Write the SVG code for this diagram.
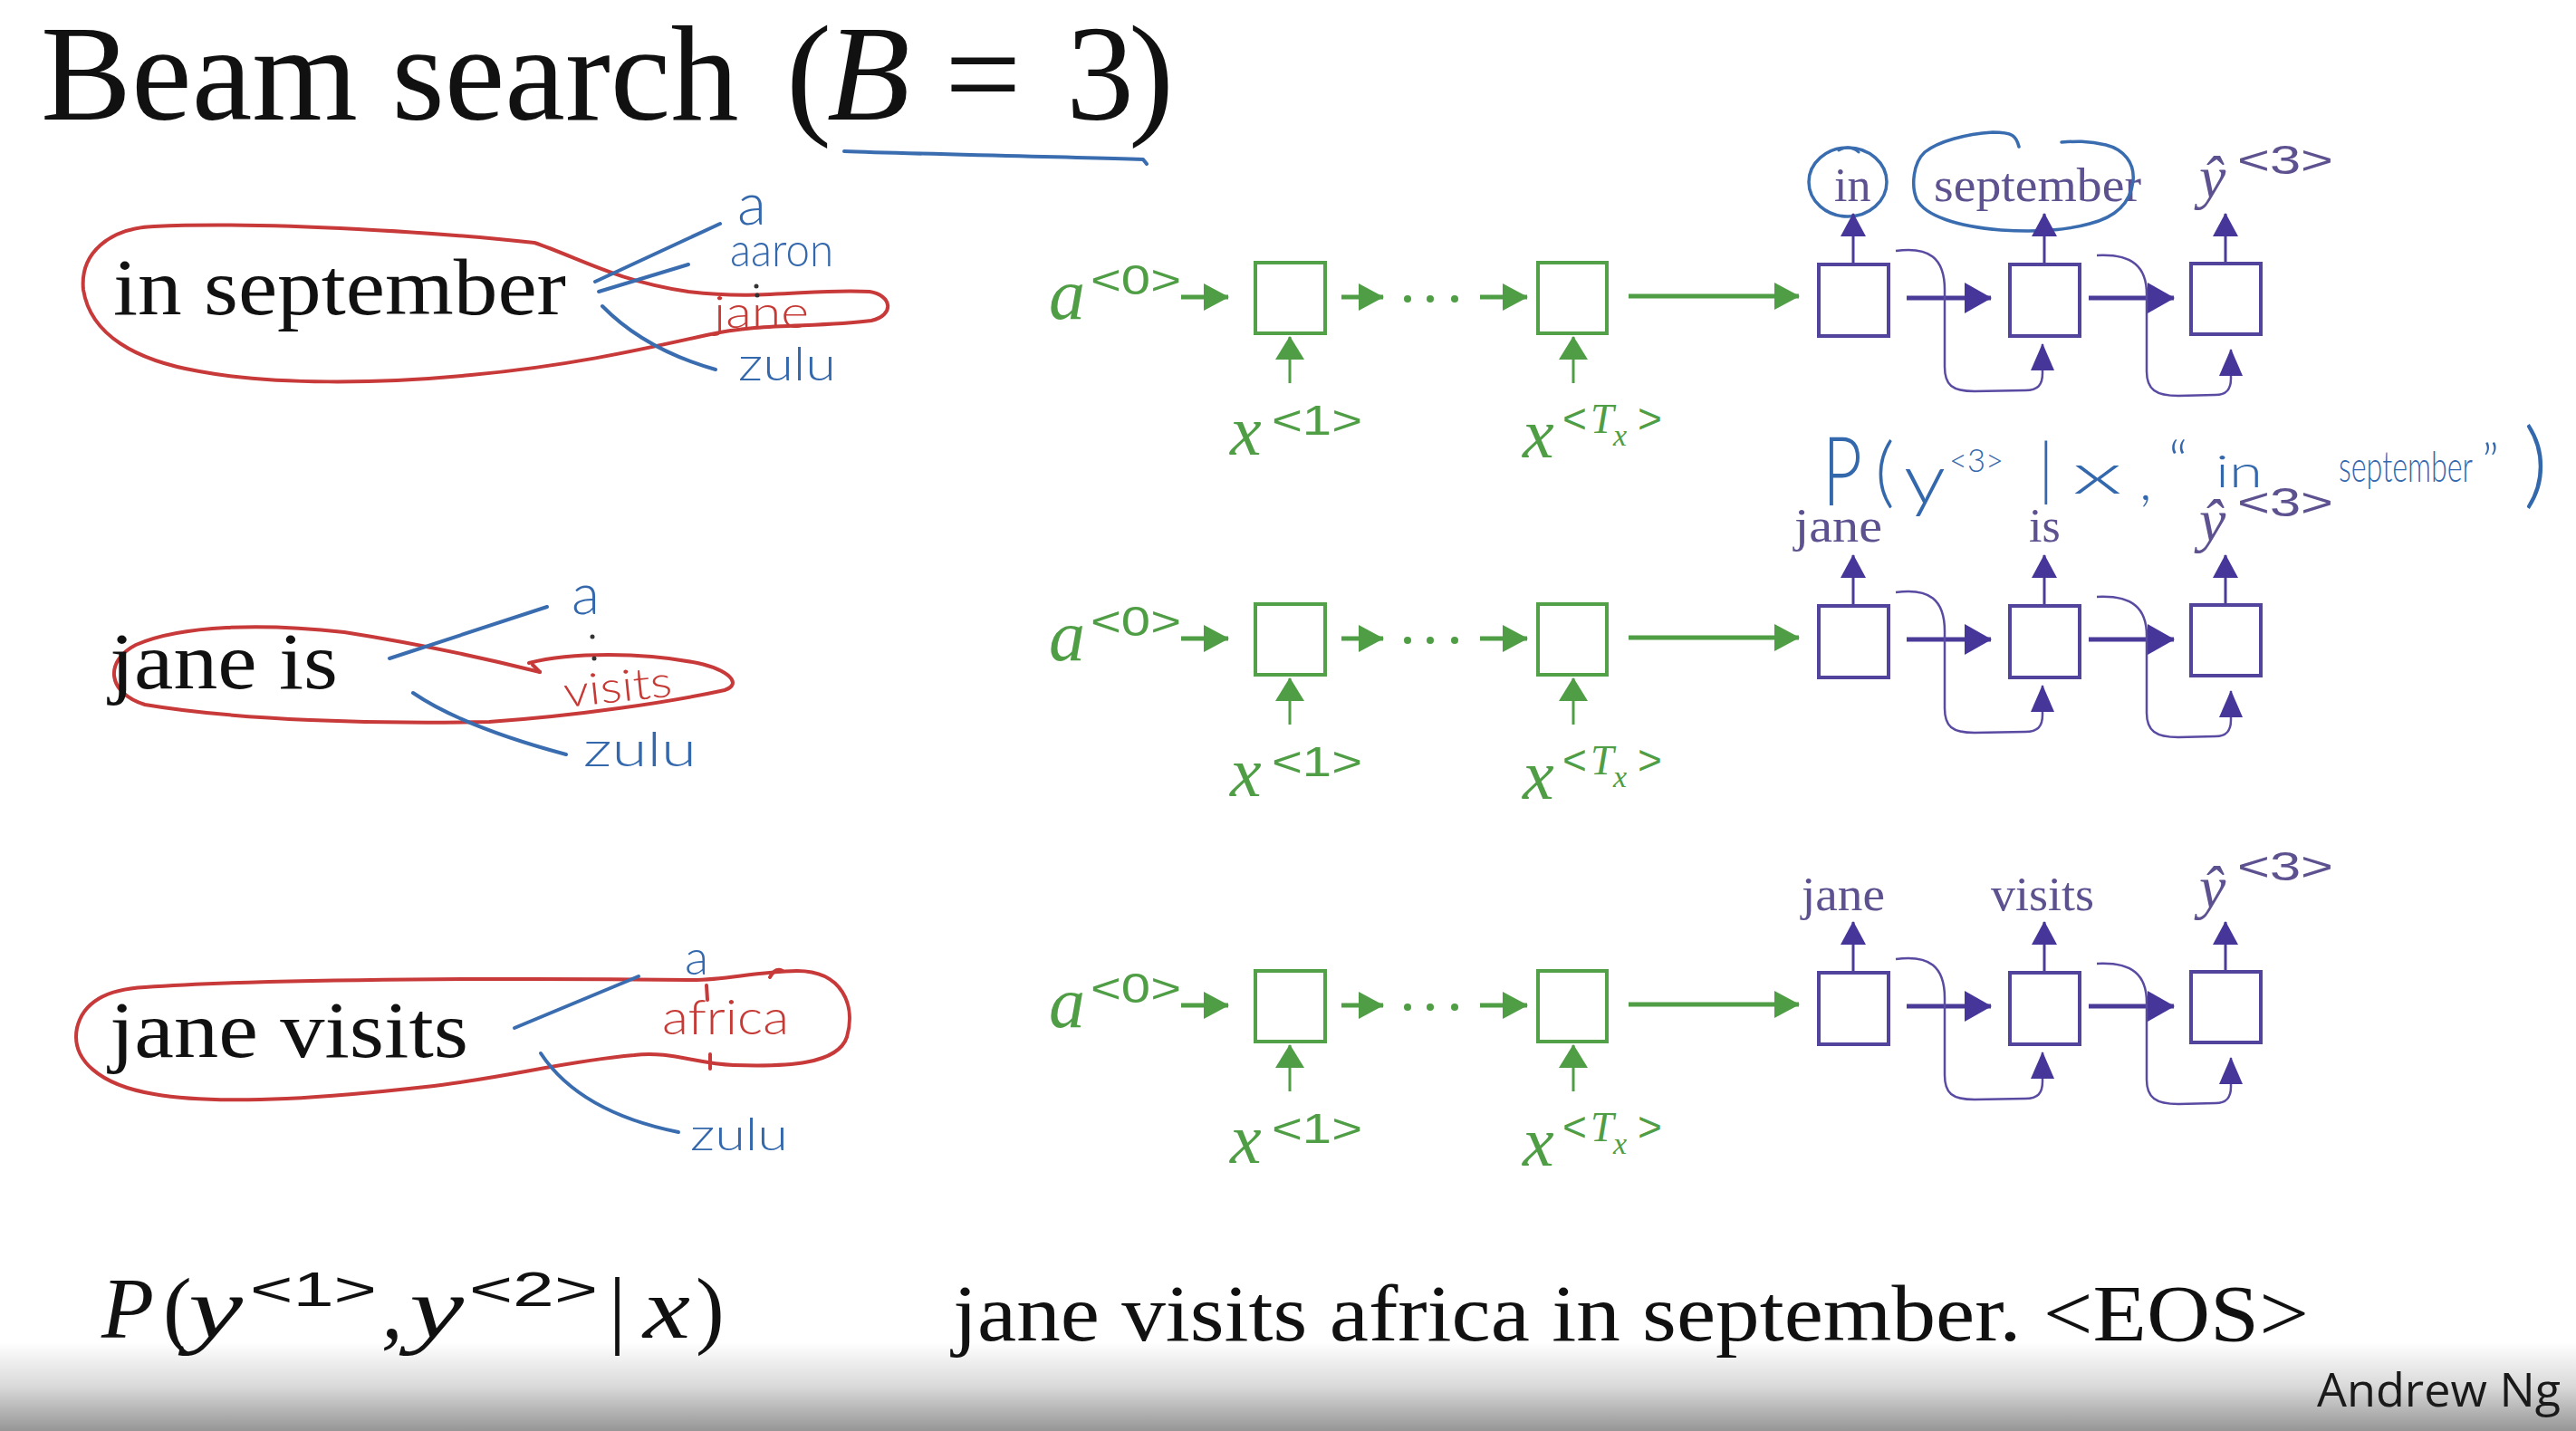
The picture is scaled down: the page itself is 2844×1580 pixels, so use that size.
<svg xmlns="http://www.w3.org/2000/svg" width="2844" height="1580" viewBox="0 0 2844 1580">
<defs>
<style>
.serif{font-family:"Liberation Serif","Times New Roman",serif}
.it{font-style:italic}
.sans{font-family:"Liberation Sans",Arial,sans-serif}
.hand{font-family:Lato,"Liberation Sans",Arial,sans-serif;font-weight:300}
.blk{fill:#111}
.gtx{fill:#4f9e45}
.ptx{fill:#5d5190}
.btx{fill:#3468ad}
.rtx{fill:#c63a36}
.gbox{fill:none;stroke:#52a048;stroke-width:4}
.pbox{fill:none;stroke:#52439c;stroke-width:4}
.garr{fill:none;stroke:#4f9e45;stroke-width:5}
.gup{fill:none;stroke:#4f9e45;stroke-width:3}
.parr{fill:none;stroke:#4a3b98;stroke-width:5}
.pup{fill:none;stroke:#4a3b98;stroke-width:3}
.pcur{fill:none;stroke:#5a4aa2;stroke-width:2.5}
.red{fill:none;stroke:#c8393a;stroke-width:4;stroke-linecap:round;stroke-linejoin:round}
.blue{fill:none;stroke:#3a6cb0;stroke-width:4;stroke-linecap:round;stroke-linejoin:round}
</style>
<marker id="gh" markerUnits="userSpaceOnUse" markerWidth="28" markerHeight="30" viewBox="0 0 28 30" refX="27" refY="15" orient="auto"><path d="M0,0 L28,15 L0,30 Z" fill="#4f9e45"/></marker>
<marker id="gu" markerUnits="userSpaceOnUse" markerWidth="26" markerHeight="32" viewBox="0 0 26 32" refX="25" refY="16" orient="auto"><path d="M0,0 L26,16 L0,32 Z" fill="#4f9e45"/></marker>
<marker id="ph" markerUnits="userSpaceOnUse" markerWidth="30" markerHeight="34" viewBox="0 0 30 34" refX="29" refY="17" orient="auto"><path d="M0,0 L30,17 L0,34 Z" fill="#46369a"/></marker>
<marker id="pu" markerUnits="userSpaceOnUse" markerWidth="26" markerHeight="28" viewBox="0 0 26 28" refX="25" refY="14" orient="auto"><path d="M0,0 L26,14 L0,28 Z" fill="#46369a"/></marker>
<marker id="pf" markerUnits="userSpaceOnUse" markerWidth="30" markerHeight="26" viewBox="0 0 30 26" refX="29" refY="13" orient="auto"><path d="M0,0 L30,13 L0,26 Z" fill="#46369a"/></marker>
<linearGradient id="fade" x1="0" y1="0" x2="0" y2="1">
<stop offset="0" stop-color="#ffffff"/>
<stop offset="0.5" stop-color="#d9d9d9"/>
<stop offset="1" stop-color="#969696"/>
</linearGradient>
</defs>
<rect width="2844" height="1580" fill="#ffffff"/>
<rect x="0" y="1482" width="2844" height="98" fill="url(#fade)"/>

<g id="title">
<text class="serif blk" font-size="150" y="132"><tspan x="45">Beam search</tspan><tspan x="868">(</tspan><tspan x="913" class="it">B</tspan><tspan x="1043">=</tspan><tspan x="1177">3</tspan><tspan x="1246">)</tspan></text>
<path class="blue" d="M932,167 C1000,170 1150,172 1262,176 L1266,181"/>
</g>

<!-- left beam candidates -->
<g id="cand1">
<path class="red" d="M170,250 C300,244 500,258 590,268 C640,285 680,310 760,322 C840,332 900,318 960,322 C985,326 988,348 962,354 C900,362 840,356 780,370 C700,388 620,405 520,414 C420,424 300,425 220,410 C150,398 100,370 92,320 C88,280 120,252 170,250 Z"/>
<text class="serif blk" font-size="89" x="125" y="347" textLength="500" lengthAdjust="spacingAndGlyphs">in september</text>
<path class="blue" d="M657,311 L795,247"/>
<path class="blue" d="M661,322 L760,292"/>
<path class="blue" d="M665,338 Q712,386 790,408"/>
<text class="hand btx" font-size="66" x="814" y="248">a</text>
<text class="hand btx" font-size="52" x="806" y="294" textLength="114" lengthAdjust="spacingAndGlyphs">aaron</text>
<circle cx="835" cy="316" r="2.5" fill="#333"/>
<circle cx="836" cy="326" r="2.5" fill="#333"/>
<text class="hand rtx" font-size="50" x="788" y="362" textLength="105" lengthAdjust="spacingAndGlyphs">jane</text>
<text class="hand btx" font-size="52" x="815" y="420" textLength="108" lengthAdjust="spacingAndGlyphs">zulu</text>
</g>

<g id="cand2">
<path class="red" d="M596,742 C560,733 470,712 380,698 C290,688 200,690 150,712 C115,730 118,765 160,778 C260,795 420,800 540,797 C640,790 740,775 800,762 C820,755 805,740 770,732 C710,720 630,720 584,732"/>
<path class="red" d="M596,742 L588,734"/>
<text class="serif blk" font-size="88" x="121" y="760" textLength="252" lengthAdjust="spacingAndGlyphs">jane is</text>
<path class="blue" d="M430,727 L604,670"/>
<path class="blue" d="M456,765 Q510,802 625,833"/>
<text class="hand btx" font-size="64" x="631" y="678">a</text>
<circle cx="654" cy="703" r="2.5" fill="#333"/>
<circle cx="656" cy="727" r="2.5" fill="#333"/>
<text class="hand rtx" font-size="48" x="622" y="775" textLength="120" lengthAdjust="spacingAndGlyphs" transform="rotate(-6 680 760)">visits</text>
<text class="hand btx" font-size="54" x="644" y="846" textLength="125" lengthAdjust="spacingAndGlyphs">zulu</text>
</g>

<g id="cand3">
<path class="red" d="M160,1090 C300,1080 600,1080 760,1082 C800,1083 830,1073 880,1072 C930,1072 945,1110 935,1145 C925,1175 870,1178 810,1176 C770,1175 740,1160 700,1165 C620,1172 560,1190 470,1200 C380,1210 250,1222 170,1208 C110,1198 78,1170 85,1135 C92,1105 120,1092 160,1090 Z"/>
<path class="red" d="M850,1079 Q856,1068 864,1072"/>
<path class="red" d="M780,1088 L781,1104"/>
<path class="red" d="M784,1164 L784,1180"/>
<text class="serif blk" font-size="88" x="121" y="1167" textLength="396" lengthAdjust="spacingAndGlyphs">jane visits</text>
<path class="blue" d="M568,1135 L705,1078"/>
<path class="blue" d="M597,1163 Q640,1228 749,1250"/>
<text class="hand btx" font-size="54" x="756" y="1076">a</text>
<text class="hand rtx" font-size="54" x="731" y="1142" textLength="140" lengthAdjust="spacingAndGlyphs">africa</text>
<text class="hand btx" font-size="50" x="762" y="1270" textLength="108" lengthAdjust="spacingAndGlyphs">zulu</text>
</g>

<!-- networks: row 1 -->
<g id="row1">
<g id="r1-a0"><text class="serif it gtx" font-size="80" x="1158" y="352">a</text><text class="sans gtx" font-size="46" x="1204" y="325" textLength="100" lengthAdjust="spacingAndGlyphs">&lt;0&gt;</text></g>
<g id="r1-enc1"><rect class="gbox" x="1386" y="290" width="77" height="78"/></g>
<g id="r1-dots"><circle cx="1554" cy="330" r="4" fill="#4f9e45"/><circle cx="1579" cy="330" r="4" fill="#4f9e45"/><circle cx="1606" cy="330" r="4" fill="#4f9e45"/></g>
<g id="r1-enc2"><rect class="gbox" x="1698" y="290" width="76" height="78"/></g>
<g id="r1-x1"><text class="serif it gtx" font-size="78" x="1358" y="502">x</text><text class="sans gtx" font-size="46" x="1404" y="480" textLength="100" lengthAdjust="spacingAndGlyphs">&lt;1&gt;</text></g>
<g id="r1-xT"><text class="serif it gtx" font-size="78" x="1681" y="505">x</text><text class="sans gtx" font-size="46" x="1725" y="478">&lt;</text><text class="serif it gtx" font-size="46" x="1756" y="478">T</text><text class="serif it gtx" font-size="34" x="1781" y="492">x</text><text class="sans gtx" font-size="46" x="1808" y="478">&gt;</text></g>
<g id="r1-dec1"><rect class="pbox" x="2008" y="292" width="77" height="79"/></g>
<g id="r1-dec2"><rect class="pbox" x="2219" y="292" width="77" height="79"/></g>
<g id="r1-dec3"><rect class="pbox" x="2419" y="291" width="77" height="78"/></g>
<g id="r1-out1"><text class="serif ptx" font-size="52" x="2025" y="222">in</text><ellipse class="blue" cx="2040" cy="201" rx="43" ry="38" style="stroke-width:3.5"/><path class="blue" d="M2030,166 q12,-7 22,2" style="stroke-width:3"/></g>
<g id="r1-out2"><text class="serif ptx" font-size="52" x="2135" y="222" textLength="229" lengthAdjust="spacingAndGlyphs">september</text><path class="blue" style="stroke-width:3.5" d="M2229,162 C2226,150 2222,146 2200,146 C2170,148 2140,156 2125,168 C2112,180 2110,205 2116,220 C2125,238 2160,250 2209,254 C2240,256 2275,256 2307,247 C2335,240 2352,225 2355,200 C2357,180 2345,165 2325,160 C2305,155 2290,156 2276,157"/></g>
<g id="r1-out3"><text class="serif it ptx" font-size="66" x="2428" y="218">ŷ</text><text class="sans ptx" font-size="44" x="2470" y="192" textLength="106" lengthAdjust="spacingAndGlyphs">&lt;3&gt;</text></g>
</g>

<!-- row 2 -->
<g id="row2" transform="translate(0,377)">
<g id="r2-a0"><text class="serif it gtx" font-size="80" x="1158" y="352">a</text><text class="sans gtx" font-size="46" x="1204" y="325" textLength="100" lengthAdjust="spacingAndGlyphs">&lt;0&gt;</text></g>
<g id="r2-enc1"><rect class="gbox" x="1386" y="290" width="77" height="78"/></g>
<g id="r2-dots"><circle cx="1554" cy="330" r="4" fill="#4f9e45"/><circle cx="1579" cy="330" r="4" fill="#4f9e45"/><circle cx="1606" cy="330" r="4" fill="#4f9e45"/></g>
<g id="r2-enc2"><rect class="gbox" x="1698" y="290" width="76" height="78"/></g>
<g id="r2-x1"><text class="serif it gtx" font-size="78" x="1358" y="502">x</text><text class="sans gtx" font-size="46" x="1404" y="480" textLength="100" lengthAdjust="spacingAndGlyphs">&lt;1&gt;</text></g>
<g id="r2-xT"><text class="serif it gtx" font-size="78" x="1681" y="505">x</text><text class="sans gtx" font-size="46" x="1725" y="478">&lt;</text><text class="serif it gtx" font-size="46" x="1756" y="478">T</text><text class="serif it gtx" font-size="34" x="1781" y="492">x</text><text class="sans gtx" font-size="46" x="1808" y="478">&gt;</text></g>
<g id="r2-dec1"><rect class="pbox" x="2008" y="292" width="77" height="79"/></g>
<g id="r2-dec2"><rect class="pbox" x="2219" y="292" width="77" height="79"/></g>
<g id="r2-dec3"><rect class="pbox" x="2419" y="291" width="77" height="78"/></g>
<g id="r2-out1"><text class="serif ptx" font-size="52" x="1981" y="221" textLength="97" lengthAdjust="spacingAndGlyphs">jane</text></g>
<g id="r2-out2"><text class="serif ptx" font-size="52" x="2240" y="221">is</text></g>
<g id="r2-out3"><text class="serif it ptx" font-size="66" x="2428" y="220">ŷ</text><text class="sans ptx" font-size="44" x="2470" y="193" textLength="106" lengthAdjust="spacingAndGlyphs">&lt;3&gt;</text></g>
</g>

<!-- row 3 -->
<g id="row3" transform="translate(0,782)">
<g id="r3-a0"><text class="serif it gtx" font-size="80" x="1158" y="352">a</text><text class="sans gtx" font-size="46" x="1204" y="325" textLength="100" lengthAdjust="spacingAndGlyphs">&lt;0&gt;</text></g>
<g id="r3-enc1"><rect class="gbox" x="1386" y="290" width="77" height="78"/></g>
<g id="r3-dots"><circle cx="1554" cy="330" r="4" fill="#4f9e45"/><circle cx="1579" cy="330" r="4" fill="#4f9e45"/><circle cx="1606" cy="330" r="4" fill="#4f9e45"/></g>
<g id="r3-enc2"><rect class="gbox" x="1698" y="290" width="76" height="78"/></g>
<g id="r3-x1"><text class="serif it gtx" font-size="78" x="1358" y="502">x</text><text class="sans gtx" font-size="46" x="1404" y="480" textLength="100" lengthAdjust="spacingAndGlyphs">&lt;1&gt;</text></g>
<g id="r3-xT"><text class="serif it gtx" font-size="78" x="1681" y="505">x</text><text class="sans gtx" font-size="46" x="1725" y="478">&lt;</text><text class="serif it gtx" font-size="46" x="1756" y="478">T</text><text class="serif it gtx" font-size="34" x="1781" y="492">x</text><text class="sans gtx" font-size="46" x="1808" y="478">&gt;</text></g>
<g id="r3-dec1"><rect class="pbox" x="2008" y="292" width="77" height="79"/></g>
<g id="r3-dec2"><rect class="pbox" x="2219" y="292" width="77" height="79"/></g>
<g id="r3-dec3"><rect class="pbox" x="2419" y="291" width="77" height="78"/></g>
<g id="r3-out1"><text class="serif ptx" font-size="52" x="1989" y="223" textLength="92" lengthAdjust="spacingAndGlyphs">jane</text></g>
<g id="r3-out2"><text class="serif ptx" font-size="52" x="2198" y="223" textLength="114" lengthAdjust="spacingAndGlyphs">visits</text></g>
<g id="r3-out3"><text class="serif it ptx" font-size="66" x="2428" y="220">ŷ</text><text class="sans ptx" font-size="44" x="2470" y="190" textLength="106" lengthAdjust="spacingAndGlyphs">&lt;3&gt;</text></g>
</g>

<g id="connectors">
<g id="conn-r1">
<line class="garr" x1="1304" y1="328" x2="1356" y2="328" marker-end="url(#gh)"/>
<line class="garr" x1="1481" y1="328" x2="1527" y2="328" marker-end="url(#gh)"/>
<line class="garr" x1="1634" y1="328" x2="1686" y2="328" marker-end="url(#gh)"/>
<line class="garr" x1="1798" y1="327" x2="1986" y2="327" marker-end="url(#gh)"/>
<line class="gup" x1="1424" y1="423" x2="1424" y2="372" marker-end="url(#gu)"/>
<line class="gup" x1="1737" y1="423" x2="1737" y2="372" marker-end="url(#gu)"/>
<line class="parr" x1="2105" y1="329" x2="2198" y2="329" marker-end="url(#ph)"/>
<line class="parr" x1="2306" y1="329" x2="2400" y2="329" marker-end="url(#ph)"/>
<line class="pup" x1="2046" y1="290" x2="2046" y2="236" marker-end="url(#pu)"/>
<line class="pup" x1="2257" y1="290" x2="2257" y2="236" marker-end="url(#pu)"/>
<line class="pup" x1="2457" y1="289" x2="2457" y2="236" marker-end="url(#pu)"/>
<path class="pcur" d="M2093,277 C2130,272 2147,285 2147,320 L2147,405 C2147,425 2155,432 2180,432 L2236,431 C2250,431 2255,425 2255,412 L2255,380" marker-end="url(#pf)"/>
<path class="pcur" d="M2315,282 C2355,280 2370,295 2370,325 L2370,410 C2370,430 2380,437 2405,437 L2446,436 C2458,436 2463,430 2463,418 L2463,386" marker-end="url(#pf)"/>
</g>
<g id="conn-r2" transform="translate(0,377)">
<line class="garr" x1="1304" y1="328" x2="1356" y2="328" marker-end="url(#gh)"/>
<line class="garr" x1="1481" y1="328" x2="1527" y2="328" marker-end="url(#gh)"/>
<line class="garr" x1="1634" y1="328" x2="1686" y2="328" marker-end="url(#gh)"/>
<line class="garr" x1="1798" y1="327" x2="1986" y2="327" marker-end="url(#gh)"/>
<line class="gup" x1="1424" y1="423" x2="1424" y2="372" marker-end="url(#gu)"/>
<line class="gup" x1="1737" y1="423" x2="1737" y2="372" marker-end="url(#gu)"/>
<line class="parr" x1="2105" y1="329" x2="2198" y2="329" marker-end="url(#ph)"/>
<line class="parr" x1="2306" y1="329" x2="2400" y2="329" marker-end="url(#ph)"/>
<line class="pup" x1="2046" y1="290" x2="2046" y2="236" marker-end="url(#pu)"/>
<line class="pup" x1="2257" y1="290" x2="2257" y2="236" marker-end="url(#pu)"/>
<line class="pup" x1="2457" y1="289" x2="2457" y2="236" marker-end="url(#pu)"/>
<path class="pcur" d="M2093,277 C2130,272 2147,285 2147,320 L2147,405 C2147,425 2155,432 2180,432 L2236,431 C2250,431 2255,425 2255,412 L2255,380" marker-end="url(#pf)"/>
<path class="pcur" d="M2315,282 C2355,280 2370,295 2370,325 L2370,410 C2370,430 2380,437 2405,437 L2446,436 C2458,436 2463,430 2463,418 L2463,386" marker-end="url(#pf)"/>
</g>
<g id="conn-r3" transform="translate(0,782)">
<line class="garr" x1="1304" y1="328" x2="1356" y2="328" marker-end="url(#gh)"/>
<line class="garr" x1="1481" y1="328" x2="1527" y2="328" marker-end="url(#gh)"/>
<line class="garr" x1="1634" y1="328" x2="1686" y2="328" marker-end="url(#gh)"/>
<line class="garr" x1="1798" y1="327" x2="1986" y2="327" marker-end="url(#gh)"/>
<line class="gup" x1="1424" y1="423" x2="1424" y2="372" marker-end="url(#gu)"/>
<line class="gup" x1="1737" y1="423" x2="1737" y2="372" marker-end="url(#gu)"/>
<line class="parr" x1="2105" y1="329" x2="2198" y2="329" marker-end="url(#ph)"/>
<line class="parr" x1="2306" y1="329" x2="2400" y2="329" marker-end="url(#ph)"/>
<line class="pup" x1="2046" y1="290" x2="2046" y2="236" marker-end="url(#pu)"/>
<line class="pup" x1="2257" y1="290" x2="2257" y2="236" marker-end="url(#pu)"/>
<line class="pup" x1="2457" y1="289" x2="2457" y2="236" marker-end="url(#pu)"/>
<path class="pcur" d="M2093,277 C2130,272 2147,285 2147,320 L2147,405 C2147,425 2155,432 2180,432 L2236,431 C2250,431 2255,425 2255,412 L2255,380" marker-end="url(#pf)"/>
<path class="pcur" d="M2315,282 C2355,280 2370,295 2370,325 L2370,410 C2370,430 2380,437 2405,437 L2446,436 C2458,436 2463,430 2463,418 L2463,386" marker-end="url(#pf)"/>
</g>
</g>

<!-- handwritten conditional probability -->
<g id="note-prob">
<text class="hand btx" font-size="106" x="2012" y="558" textLength="44" lengthAdjust="spacingAndGlyphs">P</text>
<text class="hand btx" font-size="84" x="2070" y="550">(</text>
<text class="hand btx" font-size="76" x="2102" y="556" textLength="46" lengthAdjust="spacingAndGlyphs">y</text>
<text class="hand btx" font-size="36" x="2152" y="521" textLength="60" lengthAdjust="spacingAndGlyphs">&lt;3&gt;</text>
<text class="hand btx" font-size="74" x="2250" y="544">|</text>
<text class="hand btx" font-size="62" x="2288" y="545" textLength="55" lengthAdjust="spacingAndGlyphs">x</text>
<text class="hand btx" font-size="62" x="2362" y="552">,</text>
<text class="hand btx" font-size="64" x="2394" y="532">“</text>
<text class="hand btx" font-size="50" x="2446" y="538" textLength="52" lengthAdjust="spacingAndGlyphs">in</text>
<text class="hand btx" font-size="48" x="2582" y="532" textLength="148" lengthAdjust="spacingAndGlyphs">september</text>
<text class="hand btx" font-size="56" x="2740" y="530">”</text>
<text class="hand btx" font-size="104" x="2786" y="548">)</text>
</g>

<!-- bottom formula and sentence -->
<g id="joint-prob">
<text class="serif it blk" font-size="95" x="112" y="1477">P</text>
<text class="serif blk" font-size="95" x="180" y="1477">(</text>
<text class="serif it blk" font-size="95" x="208" y="1477" textLength="60" lengthAdjust="spacingAndGlyphs">y</text>
<text class="sans blk" font-size="54" x="276" y="1442" textLength="140" lengthAdjust="spacingAndGlyphs">&lt;1&gt;</text>
<text class="serif it blk" font-size="95" x="421" y="1477">,</text>
<text class="serif it blk" font-size="95" x="452" y="1477" textLength="60" lengthAdjust="spacingAndGlyphs">y</text>
<text class="sans blk" font-size="54" x="518" y="1442" textLength="142" lengthAdjust="spacingAndGlyphs">&lt;2&gt;</text>
<text class="serif blk" font-size="95" x="672" y="1477">|</text>
<text class="serif it blk" font-size="95" x="710" y="1477" textLength="52" lengthAdjust="spacingAndGlyphs">x</text>
<text class="serif blk" font-size="95" x="768" y="1477">)</text>
</g>
<g id="sentence">
<text class="serif blk" font-size="88" x="1052" y="1480" textLength="1497" lengthAdjust="spacingAndGlyphs">jane visits africa in september. &lt;EOS&gt;</text>
</g>
<g id="credit">
<text font-family="'Open Sans','Liberation Sans',sans-serif" font-size="52" x="2558" y="1553" fill="#1a1a1a" textLength="269" lengthAdjust="spacingAndGlyphs">Andrew Ng</text>
</g>
</svg>
